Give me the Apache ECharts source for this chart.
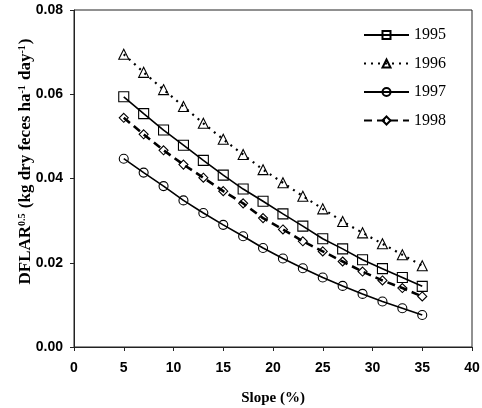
<!DOCTYPE html>
<html>
<head>
<meta charset="utf-8">
<script src="https://cdn.jsdelivr.net/npm/echarts@6/dist/echarts.min.js"></script>
<style>
  html, body { margin: 0; padding: 0; background: #fff; }
  #chart { width: 482px; height: 408px; }
</style>
</head>
<body>
<div id="chart"></div>
<script>
// 数据
const years = ["1995", "1996", "1997", "1998"];
const slope = [5, 7, 9, 11, 13, 15, 17, 19, 21, 23, 25, 27, 29, 31, 33, 35];
const s1995 = [0.0594, 0.0554, 0.0515, 0.0479, 0.0443, 0.0408, 0.0375, 0.0346, 0.0316, 0.0287, 0.0257, 0.0233, 0.0207, 0.0186, 0.0165, 0.0144];
const s1996 = [0.0695, 0.0652, 0.0611, 0.0571, 0.0531, 0.0493, 0.0457, 0.0421, 0.0390, 0.0358, 0.0328, 0.0298, 0.0271, 0.0245, 0.0219, 0.0193];
const s1997 = [0.0447, 0.0414, 0.0382, 0.0348, 0.0318, 0.0290, 0.0263, 0.0235, 0.0210, 0.0187, 0.0165, 0.0145, 0.0126, 0.0108, 0.0092, 0.0076];
const s1998 = [0.0544, 0.0505, 0.0467, 0.0433, 0.0402, 0.0370, 0.0341, 0.0306, 0.0279, 0.0251, 0.0227, 0.0203, 0.0179, 0.0158, 0.0140, 0.0120];
const xTicks = [0, 40, 5];
const yTicks = [0, 0.08, 0.02];

let chart = echarts.init(document.getElementById("chart"));

const axisColor = "#222";
const pair = (vals) => slope.map((x, i) => [x, vals[i]]);

function makeSeries(name, vals, symbol, size, lineType, width) {
	return {
		name: name,
		type: "line",
		data: pair(vals),
		symbol: symbol,
		symbolSize: size,
		showAllSymbol: true,
		itemStyle: { color: "rgba(255,255,255,0)", borderColor: "#000", borderWidth: 1.1 },
		lineStyle: { color: "#000", width: width, type: lineType },
		emphasis: { disabled: true },
		z: 2,
	};
}

const option = {
	animation: false,
	backgroundColor: "#fff",
	grid: {
		left: 74,
		right: 10,
		top: 10,
		bottom: 61,
		outerBoundsMode: "none",
		show: true,
		borderColor: axisColor,
		borderWidth: 1,
	},
	legend: {
		orient: "vertical",
		left: 363,
		top: 27,
		padding: 0,
		itemWidth: 45,
		itemHeight: 10,
		itemGap: 12.5,
		data: years,
		textStyle: {
			color: "#000",
			fontFamily: "Liberation Serif",
			fontSize: 16,
			lineHeight: 16,
		},
	},
	xAxis: {
		type: "value",
		min: xTicks[0],
		max: xTicks[1],
		interval: xTicks[2],
		name: "Slope (%)",
		nameLocation: "middle",
		nameGap: 44,
		nameTextStyle: { color: "#000", fontFamily: "Liberation Serif", fontWeight: "bold", fontSize: 15 },
		axisLine: { lineStyle: { color: axisColor, width: 1 } },
		axisTick: { inside: false, length: 4, lineStyle: { color: axisColor } },
		axisLabel: { color: "#000", fontFamily: "Liberation Sans", fontWeight: "bold", fontSize: 14, margin: 14 },
		splitLine: { show: false },
	},
	yAxis: {
		type: "value",
		min: yTicks[0],
		max: yTicks[1],
		interval: yTicks[2],
		name: "{b|DFLAR}{s|0.5}{b| (kg dry feces ha}{s|-1}{b| day}{s|-1}{b|)}",
		nameLocation: "middle",
		nameRotate: 90,
		nameGap: 40,
		nameMoveOverlap: false,
		nameTextStyle: {
			color: "#000",
			padding: [0, 0, 0, 34],
			rich: {
				b: { fontFamily: "Liberation Serif", fontWeight: "bold", fontSize: 17, lineHeight: 17, color: "#000", verticalAlign: "bottom" },
				s: { fontFamily: "Liberation Serif", fontWeight: "bold", fontSize: 10, lineHeight: 12, color: "#000", verticalAlign: "top", padding: [0, 1, 10, 0] },
			},
		},
		axisLine: { show: true, lineStyle: { color: axisColor, width: 1 } },
		axisTick: { show: true, inside: false, length: 4, lineStyle: { color: axisColor } },
		axisLabel: {
			color: "#000",
			fontFamily: "Liberation Sans",
			fontWeight: "bold",
			fontSize: 14,
			margin: 11,
			formatter: (v) => v.toFixed(2),
		},
		splitLine: { show: false },
	},
	series: [
		makeSeries(years[0], s1995, "rect", 10, "solid", 1.6),
		makeSeries(years[1], s1996, "triangle", 10, [2, 5], 2.2),
		makeSeries(years[2], s1997, "circle", 9, "solid", 1.6),
		makeSeries(years[3], s1998, "diamond", 9, [8, 5], 2.6),
	],
};

chart.setOption(option);
</script>
</body>
</html>
